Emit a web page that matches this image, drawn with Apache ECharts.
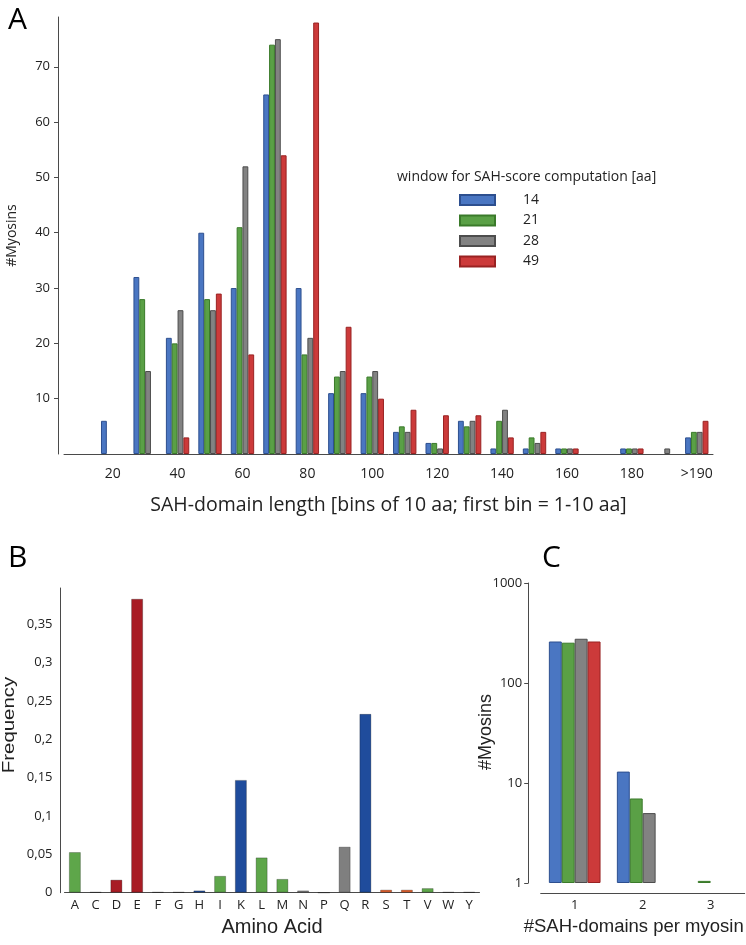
<!DOCTYPE html>
<html>
<head>
<meta charset="utf-8">
<script src="https://cdn.jsdelivr.net/npm/echarts@6/dist/echarts.min.js"></script>
<style>html,body{margin:0;padding:0;background:#fff}#c{width:746px;height:945px}</style>
</head>
<body>
<div id="c"></div>
<script>
// Panel A: SAH-domain length histogram
const lengthBins = ['10','20','30','40','50','60','70','80','90','100','110','120','130','140','150','160','170','180','190','>190'];
const win14 = [null,6,32,21,40,30,65,30,11,11,4,2,6,1,1,1,null,1,null,3];
const win21 = [null,null,28,20,28,41,74,18,14,14,5,2,5,6,3,1,null,1,null,4];
const win28 = [null,null,15,26,26,52,75,21,15,15,4,1,6,8,2,1,null,1,1,4];
const win49 = [null,null,null,3,29,18,54,78,23,10,8,7,7,3,4,1,null,1,null,6];
const windowNames = ['14','21','28','49'];

// Panel B: amino acid frequency
const aminoAcids = ['A','C','D','E','F','G','H','I','K','L','M','N','P','Q','R','S','T','V','W','Y'];
const aaFreq = [0.053,0.001,0.017,0.383,0.001,0.001,0.003,0.022,0.147,0.046,0.018,0.003,0,0.060,0.233,0.004,0.004,0.006,0.001,0.001];

// Panel C: number of SAH domains per myosin
const domainCounts = ['1','2','3'];
const dom14 = [260,13,null];
const dom21 = [253,7,1.05];
const dom28 = [277,5,null];
const dom49 = [260,null,null];

// styles
const fillCols = ['#4a76c2','#5aa046','#828282','#cc3a3a'];
const edgeCols = ['#2d4f8f','#3a7a2a','#4d4d4d','#992222'];
const aaColour = {
  A:'#5ea64a',C:'#6b6b6b',D:'#a81c24',E:'#a81c24',F:'#5ea64a',G:'#a81c24',H:'#1f4c9c',I:'#5ea64a',
  K:'#1f4c9c',L:'#5ea64a',M:'#5ea64a',N:'#7f7f7f',P:'#7f7f7f',Q:'#7f7f7f',R:'#1f4c9c',S:'#e2602c',
  T:'#e2602c',V:'#5ea64a',W:'#5ea64a',Y:'#5ea64a'
};

const myriad = '"Open Sans", "DejaVu Sans", sans-serif';
const helv = '"Liberation Sans", Arial, sans-serif';
const axisCol = '#4a4a4a';
const txt = '#222';

const chart = echarts.init(document.getElementById('c'), null, {renderer:'canvas'});

const seriesA = [win14, win21, win28, win49].map((d, i) => ({
  name: windowNames[i], type: 'bar', xAxisIndex: 0, yAxisIndex: 0, data: d,
  barGap: '0%', barCategoryGap: '28%',
  itemStyle: {color: fillCols[i], borderColor: edgeCols[i], borderWidth: 1},
  emphasis: {disabled: true}
}));
const seriesC = [dom14, dom21, dom28, dom49].map((d, i) => ({
  name: windowNames[i], type: 'bar', xAxisIndex: 2, yAxisIndex: 2, data: d,
  barGap: '0%', barCategoryGap: '24%',
  itemStyle: {color: fillCols[i], borderColor: edgeCols[i], borderWidth: 1},
  emphasis: {disabled: true}
}));
const seriesB = {
  type: 'bar', xAxisIndex: 1, yAxisIndex: 1, data: aaFreq, barWidth: '58%',
  itemStyle: {
    color: p => aaColour[aminoAcids[p.dataIndex]],
    borderColor: 'rgba(0,0,0,0.25)', borderWidth: 1
  },
  emphasis: {disabled: true}
};

const option = {
  animation: false,
  backgroundColor: '#fff',
  title: [
    {text: 'A', left: 3, top: 0, textStyle: {fontSize: 30, fontWeight: 'normal', fontFamily: myriad, color: '#000'}},
    {text: 'B', left: 3, top: 538, textStyle: {fontSize: 30, fontWeight: 'normal', fontFamily: myriad, color: '#000'}},
    {text: 'C', left: 537, top: 538, textStyle: {fontSize: 30, fontWeight: 'normal', fontFamily: myriad, color: '#000'}},
    {text: 'window for SAH-score computation [aa]', left: 392, top: 165, textStyle: {fontSize: 14, fontWeight: 'normal', fontFamily: myriad, color: txt}}
  ],
  graphic: [
    {type: 'text', x: 9, y: 725, rotation: Math.PI / 2, scaleX: 1.2, silent: true,
      style: {text: 'Frequency', font: '17px "Liberation Sans", Arial, sans-serif', fill: txt, align: 'center', verticalAlign: 'middle'}},
    {type: 'text', x: 486.5, y: 732, rotation: Math.PI / 2, silent: true,
      style: {text: '#Myosins', font: '18px "Liberation Sans", Arial, sans-serif', fill: txt, align: 'center', verticalAlign: 'middle'}}
  ],
  legend: {
    data: windowNames, orient: 'vertical', left: 459, top: 193, padding: 0,
    itemWidth: 35, itemHeight: 10, itemGap: 6.5,
    icon: 'rect',
    textStyle: {fontSize: 14, fontFamily: myriad, color: txt, padding: [0, 0, 0, 23]},
    selectedMode: false
  },
  grid: [
    {left: 64, right: 33, top: 17, bottom: 491, outerBoundsMode: 'none', containLabel: false},
    {left: 64.5, right: 266.5, top: 588, bottom: 52.3, outerBoundsMode: 'none', containLabel: false},
    {left: 540.7, right: 1.3, top: 583, bottom: 62, outerBoundsMode: 'none', containLabel: false}
  ],
  xAxis: [
    {
      gridIndex: 0, type: 'category', data: lengthBins, boundaryGap: true,
      axisLine: {lineStyle: {color: axisCol}},
      axisTick: {interval: 0, length: 8, lineStyle: {color: axisCol}},
      axisLabel: {interval: (i) => i % 2 === 1, fontSize: 14, fontFamily: myriad, color: txt, margin: 13},
      name: 'SAH-domain length [bins of 10 aa; first bin = 1-10 aa]', nameLocation: 'middle', nameGap: 41,
      nameTextStyle: {fontSize: 19.5, fontFamily: myriad, color: txt}
    },
    {
      gridIndex: 1, type: 'category', data: aminoAcids, boundaryGap: true,
      axisLine: {lineStyle: {color: axisCol}},
      axisTick: {show: false},
      axisLabel: {interval: 0, fontSize: 13, fontFamily: myriad, color: txt, margin: 6},
      name: 'Amino Acid', nameLocation: 'middle', nameGap: 25,
      nameTextStyle: {fontSize: 20, fontFamily: helv, color: txt}
    },
    {
      gridIndex: 2, type: 'category', data: domainCounts, boundaryGap: true, offset: 10,
      axisLine: {lineStyle: {color: axisCol}},
      axisTick: {show: false},
      axisLabel: {interval: 0, fontSize: 13, fontFamily: myriad, color: txt, margin: 6},
      name: '#SAH-domains per myosin', nameLocation: 'middle', nameGap: 24,
      nameTextStyle: {fontSize: 18.5, fontFamily: helv, color: txt, padding: [0, 18, 0, 0]}
    }
  ],
  yAxis: [
    {
      gridIndex: 0, type: 'value', min: 0, max: 79, interval: 10, offset: 6,
      splitLine: {show: false},
      axisLine: {show: true, lineStyle: {color: axisCol}},
      axisTick: {show: true, length: 4, lineStyle: {color: axisCol}},
      axisLabel: {showMinLabel: false, showMaxLabel: false, fontSize: 13, fontFamily: myriad, color: txt, margin: 8},
      name: '#Myosins', nameLocation: 'middle', nameGap: 39,
      nameTextStyle: {fontSize: 14, fontFamily: myriad, color: txt}
    },
    {
      gridIndex: 1, type: 'value', min: 0, max: 0.397, interval: 0.05, offset: 4,
      splitLine: {show: false},
      axisLine: {show: true, lineStyle: {color: axisCol}},
      axisTick: {show: false},
      axisLabel: {showMaxLabel: false, fontSize: 13, fontFamily: myriad, color: txt, margin: 8,
        formatter: v => String(+v.toFixed(2)).replace('.', ',')}
    },
    {
      gridIndex: 2, type: 'log', logBase: 10, min: 1, max: 1000, offset: 12.5,
      splitLine: {show: false},
      axisLine: {show: true, lineStyle: {color: axisCol}},
      axisTick: {show: true, length: 4, lineStyle: {color: axisCol}},
      minorTick: {show: false},
      axisLabel: {fontSize: 13, fontFamily: myriad, color: txt, margin: 6, formatter: v => String(Math.round(v))}
    }
  ],
  series: [...seriesA, seriesB, ...seriesC]
};
chart.setOption(option);
</script>
</body>
</html>
